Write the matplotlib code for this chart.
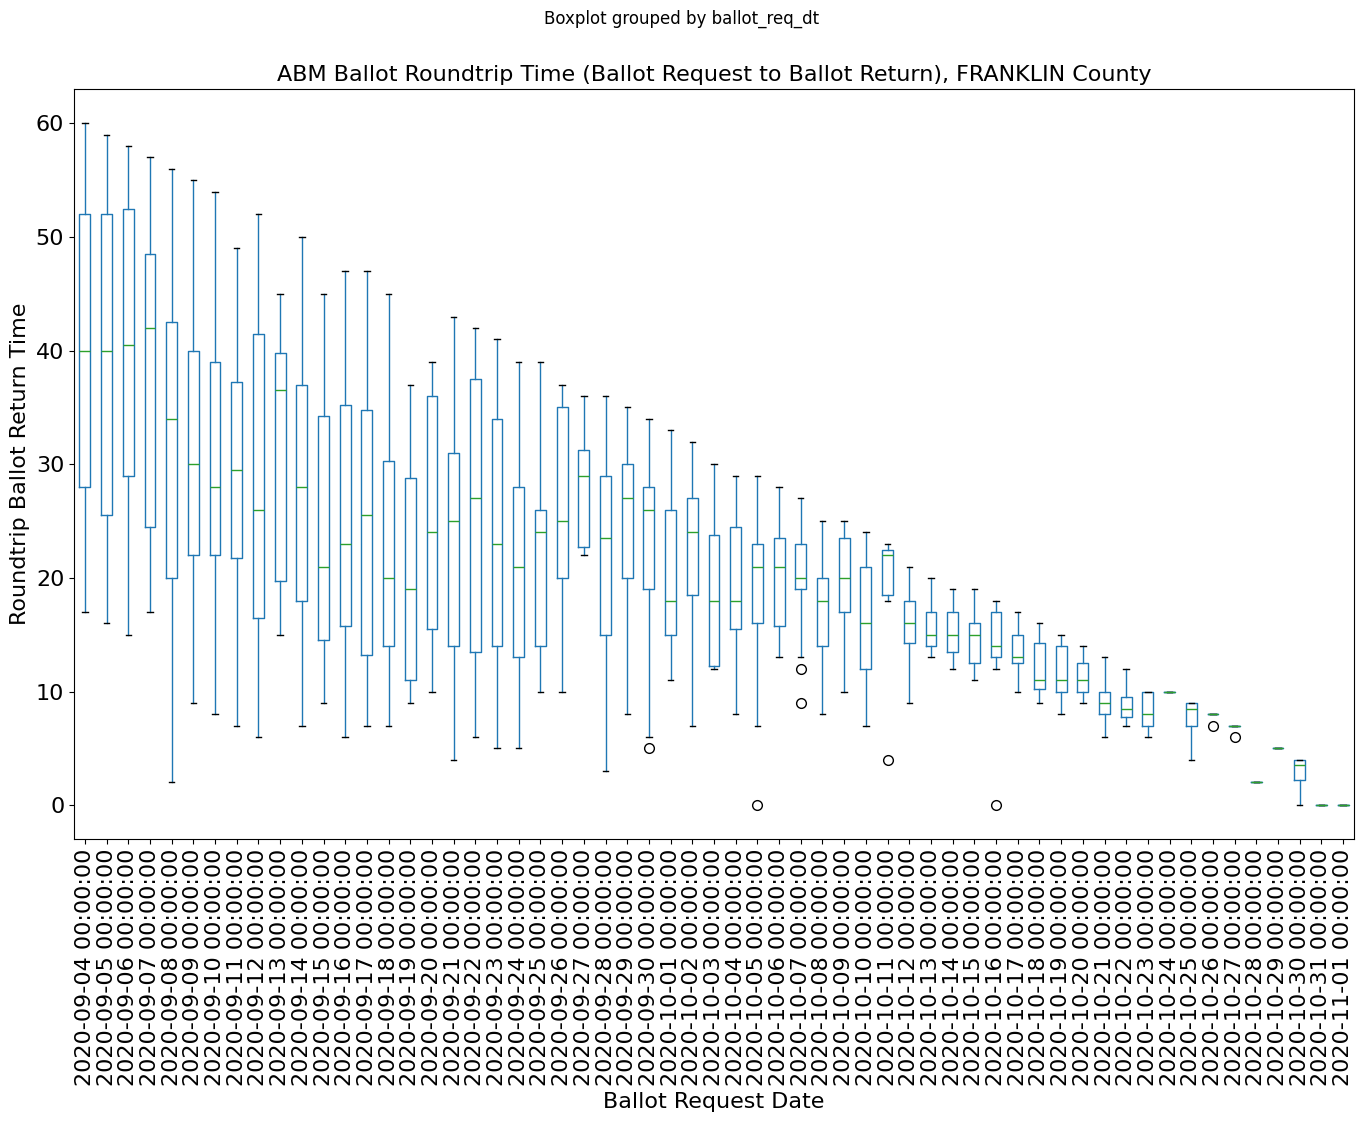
import matplotlib
matplotlib.use("Agg")
import matplotlib.pyplot as plt
import pandas as pd

# Ballot request dates (one box per day)
dates = pd.date_range("2020-09-04", "2020-11-01", freq="D")
labels = [d.strftime("%Y-%m-%d %H:%M:%S") for d in dates]

# Box statistics (days)
whislo = [17, 16, 15, 17, 2, 9, 8, 7, 6, 15, 7, 9, 6, 7, 7,
          9, 10, 4, 6, 5, 5, 10, 10, 22, 3, 8, 6, 11, 7, 12,
          8, 7, 13, 13, 8, 10, 7, 18, 9, 13, 12, 11, 12, 10, 9,
          8, 9, 6, 7, 6, 10, 4, 8, 7, 2, 5, 0, 0, 0]
q1 = [28, 25.5, 29, 24.5, 20, 22, 22, 21.75, 16.5, 19.75, 18, 14.5, 15.75, 13.25, 14,
      11, 15.5, 14, 13.5, 14, 13, 14, 20, 22.75, 15, 20, 19, 15, 18.5, 12.25,
      15.5, 16, 15.75, 19, 14, 17, 12, 18.5, 14.25, 14, 13.5, 12.5, 13, 12.5, 10.25,
      10, 10, 8, 7.75, 7, 10, 7, 8, 7, 2, 5, 2.25, 0, 0]
med = [40, 40, 40.5, 42, 34, 30, 28, 29.5, 26, 36.5, 28, 21, 23, 25.5, 20,
       19, 24, 25, 27, 23, 21, 24, 25, 29, 23.5, 27, 26, 18, 24, 18,
       18, 21, 21, 20, 18, 20, 16, 22, 16, 15, 15, 15, 14, 13, 11,
       11, 11, 9, 8.5, 8, 10, 8.5, 8, 7, 2, 5, 3.5, 0, 0]
q3 = [52, 52, 52.5, 48.5, 42.5, 40, 39, 37.25, 41.5, 39.75, 37, 34.25, 35.25, 34.75, 30.25,
      28.75, 36, 31, 37.5, 34, 28, 26, 35, 31.25, 29, 30, 28, 26, 27, 23.75,
      24.5, 23, 23.5, 23, 20, 23.5, 21, 22.5, 18, 17, 17, 16, 17, 15, 14.25,
      14, 12.5, 10, 9.5, 10, 10, 9, 8, 7, 2, 5, 4, 0, 0]
whishi = [60, 59, 58, 57, 56, 55, 54, 49, 52, 45, 50, 45, 47, 47, 45,
          37, 39, 43, 42, 41, 39, 39, 37, 36, 36, 35, 34, 33, 32, 30,
          29, 29, 28, 27, 25, 25, 24, 23, 21, 20, 19, 19, 18, 17, 16,
          15, 14, 13, 12, 10, 10, 9, 8, 7, 2, 5, 4, 0, 0]
outliers = {
    "2020-09-30": [5],
    "2020-10-05": [0],
    "2020-10-07": [12, 9],
    "2020-10-11": [4],
    "2020-10-16": [0],
    "2020-10-26": [7],
    "2020-10-27": [6],
}

stats = []
for i, d in enumerate(dates):
    stats.append({
        "whislo": whislo[i], "q1": q1[i], "med": med[i],
        "q3": q3[i], "whishi": whishi[i],
        "fliers": outliers.get(d.strftime("%Y-%m-%d"), []),
    })

fig = plt.figure(figsize=(13.63, 11.22), dpi=100)
ax = fig.add_axes([0.0543, 0.252, 0.9391, 0.6684])

ax.bxp(stats, positions=range(1, len(stats) + 1), widths=0.5,
       boxprops=dict(color="#1f77b4"),
       whiskerprops=dict(color="#1f77b4"),
       capprops=dict(color="black"),
       medianprops=dict(color="#2ca02c"),
       flierprops=dict(marker="o", markersize=7, markeredgecolor="black",
                       markerfacecolor="none"))

ax.set_xlim(0.5, len(stats) + 0.5)
ax.set_ylim(-3, 63)
ax.set_xticks(range(1, len(stats) + 1))
ax.set_xticklabels(labels, rotation=90)
ax.tick_params(labelsize=16)

ax.set_title("ABM Ballot Roundtrip Time (Ballot Request to Ballot Return), FRANKLIN County", fontsize=16)
ax.set_xlabel("Ballot Request Date", fontsize=16)
ax.set_ylabel("Roundtrip Ballot Return Time", fontsize=16)
fig.suptitle("Boxplot grouped by ballot_req_dt", fontsize=12, y=0.991)

fig.savefig("out.png", dpi=100)
